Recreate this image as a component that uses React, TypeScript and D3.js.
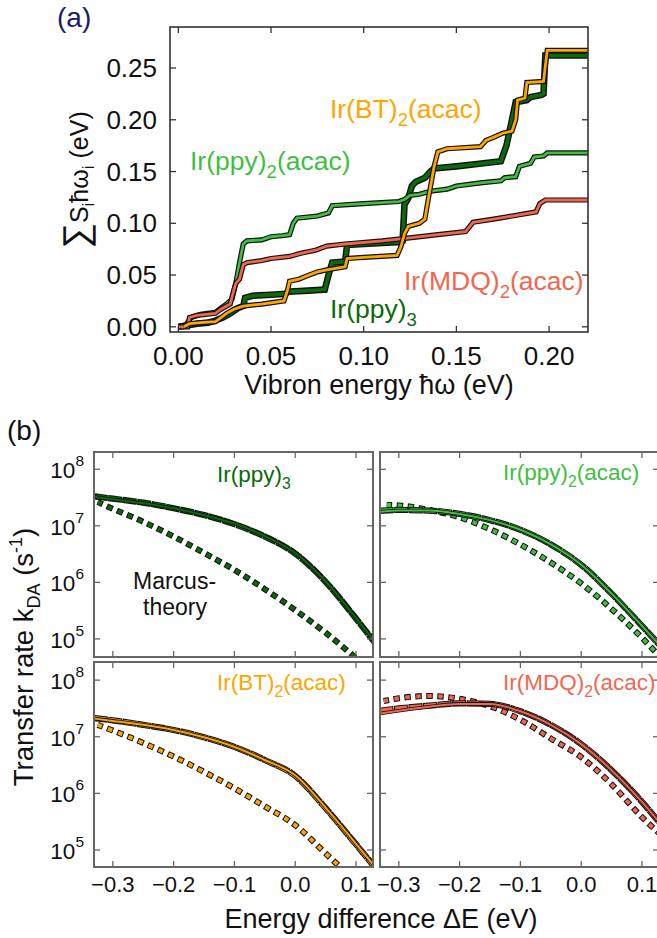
import React from "react";
import * as d3 from "d3";

const FONT = '"Liberation Sans", Arial, Helvetica, sans-serif';

// ---------- colours ----------
const C_PPY3 = "#0b6a0b";
const C_PPY2 = "#3fbf3f";
const C_BT = "#ffa500";
const C_MDQ = "#f26650";

// ---------- panel (a): cumulative reorganisation energy ----------
type Pt = [number, number];
const ppy3Cum: Pt[] = [
  [0.0, 0.0], [0.004, 0.001], [0.01, 0.003], [0.016, 0.004], [0.02, 0.006], [0.024, 0.009],
  [0.028, 0.013], [0.032, 0.018], [0.035, 0.02], [0.036, 0.028], [0.04, 0.03], [0.05, 0.031],
  [0.058, 0.032], [0.059, 0.034], [0.07, 0.035], [0.079, 0.036], [0.081, 0.05], [0.083, 0.062],
  [0.09, 0.063], [0.091, 0.079], [0.1, 0.08], [0.11, 0.081], [0.12, 0.082], [0.121, 0.083],
  [0.122, 0.118], [0.124, 0.124], [0.126, 0.136], [0.128, 0.14], [0.133, 0.144], [0.136, 0.15],
  [0.138, 0.153], [0.15, 0.155], [0.16, 0.157], [0.174, 0.16], [0.177, 0.175], [0.18, 0.2],
  [0.182, 0.217], [0.188, 0.219], [0.19, 0.222], [0.196, 0.224], [0.197, 0.225], [0.198, 0.262],
  [0.221, 0.262],
];
const ppy2Cum: Pt[] = [
  [0.0, 0.0], [0.004, 0.002], [0.007, 0.009], [0.012, 0.012], [0.02, 0.014], [0.023, 0.018],
  [0.026, 0.022], [0.029, 0.027], [0.031, 0.042], [0.033, 0.062], [0.035, 0.08], [0.037, 0.083],
  [0.045, 0.084], [0.05, 0.087], [0.056, 0.088], [0.06, 0.089], [0.062, 0.1], [0.064, 0.105],
  [0.075, 0.107], [0.081, 0.11], [0.083, 0.117], [0.1, 0.119], [0.119, 0.121], [0.122, 0.123],
  [0.125, 0.127], [0.13, 0.128], [0.136, 0.131], [0.145, 0.133], [0.15, 0.136], [0.163, 0.139],
  [0.174, 0.141], [0.176, 0.144], [0.182, 0.145], [0.184, 0.155], [0.19, 0.158], [0.192, 0.164],
  [0.197, 0.165], [0.199, 0.168], [0.221, 0.168],
];
const btCum: Pt[] = [
  [0.003, 0.0], [0.006, 0.003], [0.012, 0.004], [0.02, 0.005], [0.023, 0.009], [0.026, 0.013],
  [0.03, 0.017], [0.035, 0.02], [0.045, 0.022], [0.057, 0.025], [0.059, 0.036], [0.06, 0.044],
  [0.065, 0.046], [0.069, 0.049], [0.075, 0.053], [0.08, 0.055], [0.09, 0.058], [0.091, 0.066],
  [0.1, 0.067], [0.118, 0.069], [0.12, 0.077], [0.122, 0.09], [0.124, 0.097], [0.13, 0.1],
  [0.133, 0.104], [0.135, 0.125], [0.138, 0.155], [0.14, 0.169], [0.145, 0.172], [0.163, 0.174],
  [0.166, 0.18], [0.17, 0.183], [0.175, 0.187], [0.18, 0.189], [0.182, 0.2], [0.183, 0.219],
  [0.187, 0.221], [0.188, 0.236], [0.197, 0.237], [0.199, 0.267], [0.221, 0.267],
];
const mdqCum: Pt[] = [
  [0.0, 0.0], [0.005, 0.0], [0.006, 0.009], [0.01, 0.011], [0.02, 0.013], [0.023, 0.017],
  [0.028, 0.022], [0.03, 0.036], [0.031, 0.042], [0.033, 0.046], [0.035, 0.06], [0.037, 0.062],
  [0.045, 0.064], [0.05, 0.066], [0.06, 0.068], [0.066, 0.071], [0.074, 0.074], [0.08, 0.078],
  [0.09, 0.08], [0.11, 0.083], [0.12, 0.085], [0.14, 0.089], [0.155, 0.092], [0.159, 0.101],
  [0.17, 0.104], [0.18, 0.107], [0.193, 0.111], [0.195, 0.119], [0.198, 0.1225], [0.221, 0.1225],
];
const aXTicks = [0, 0.05, 0.1, 0.15, 0.2];
const aYTicks = [0, 0.05, 0.1, 0.15, 0.2, 0.25];

// ---------- panel (b): transfer rates (log10 k_DA) ----------
const dEGrid = [-0.33, -0.3, -0.25, -0.2, -0.15, -0.1, -0.05, 0.0, 0.05, 0.1, 0.13];

const ppy3Full = [7.51, 7.47, 7.4, 7.31, 7.19, 7.04, 6.82, 6.52, 6.02, 5.37, 4.96];
const ppy3Dash = [7.52, 7.48, 7.41, 7.31, 7.19, 7.03, 6.81, 6.51, 6.01, 5.36, 4.95];
const ppy3MarcusE = [-0.325, -0.3, -0.25, -0.2, -0.15, -0.1, -0.05, 0.0, 0.05, 0.1];
const ppy3Marcus = [7.42, 7.3, 7.07, 6.81, 6.52, 6.22, 5.88, 5.51, 5.11, 4.66];

const ppy2Full = [7.25, 7.27, 7.27, 7.21, 7.1, 6.93, 6.67, 6.31, 5.8, 5.23, 4.88];
const ppy2Dash = [7.27, 7.28, 7.27, 7.21, 7.1, 6.93, 6.67, 6.31, 5.8, 5.23, 4.88];
const ppy2MarcusE = [-0.32, -0.3, -0.25, -0.2, -0.15, -0.1, -0.05, 0.0, 0.05, 0.1, 0.13];
const ppy2Marcus = [7.37, 7.36, 7.28, 7.15, 6.94, 6.67, 6.35, 5.98, 5.53, 5.02, 4.68];

const btFull = [7.32, 7.28, 7.21, 7.12, 6.99, 6.82, 6.59, 6.32, 5.75, 5.11, 4.72];
const btDash = [7.33, 7.29, 7.21, 7.12, 6.99, 6.82, 6.59, 6.31, 5.74, 5.1, 4.71];
const btMarcusE = [-0.325, -0.3, -0.25, -0.2, -0.15, -0.1, -0.05, 0.0, 0.05, 0.08];
const btMarcus = [7.21, 7.11, 6.89, 6.65, 6.38, 6.09, 5.77, 5.44, 4.94, 4.64];

const mdqFull = [7.41, 7.46, 7.53, 7.58, 7.58, 7.45, 7.21, 6.87, 6.41, 5.85, 5.47];
const mdqDash = [7.46, 7.5, 7.55, 7.59, 7.58, 7.45, 7.21, 6.87, 6.41, 5.85, 5.47];
const mdqMarcusE = [-0.325, -0.3, -0.25, -0.2, -0.15, -0.1, -0.05, 0.0, 0.05, 0.1, 0.13];
const mdqMarcus = [7.63, 7.68, 7.72, 7.67, 7.54, 7.3, 6.97, 6.64, 6.16, 5.58, 5.28];

const bXTicks = [-0.3, -0.2, -0.1, 0.0, 0.1];
const bYTickExps = [5, 6, 7, 8];

// ---------- helpers ----------
function Outlined(props: {
  d: string; color: string; w: number; outline: number; dash?: number; gap?: number; clip?: string;
}) {
  const { d, color, w, outline, dash, gap, clip } = props;
  const common = { fill: "none", strokeLinejoin: "miter" as const, strokeLinecap: "butt" as const, clipPath: clip };
  if (dash === undefined || gap === undefined) {
    return (
      <g>
        <path d={d} stroke="#111" strokeWidth={w + 2 * outline} {...common} />
        <path d={d} stroke={color} strokeWidth={w} {...common} />
      </g>
    );
  }
  return (
    <g>
      <path d={d} stroke="#111" strokeWidth={w + 2 * outline}
        strokeDasharray={`${dash + 2 * outline} ${Math.max(gap - 2 * outline, 0.01)}`}
        strokeDashoffset={outline} {...common} />
      <path d={d} stroke={color} strokeWidth={w} strokeDasharray={`${dash} ${gap}`} {...common} />
    </g>
  );
}

function Formula(props: { x: number; y: number; size: number; color: string; a: string; s: string; b?: string }) {
  const { x, y, size, color, a, s, b } = props;
  const d = size * 0.3;
  return (
    <text x={x} y={y} fontSize={size} fill={color} fontFamily={FONT}>
      {a}
      <tspan dy={d} fontSize={size * 0.7}>{s}</tspan>
      {b ? <tspan dy={-d}>{b}</tspan> : null}
    </text>
  );
}

type SubProps = {
  id: string; x0: number; x1: number; y0: number; y1: number; logMin: number; logMax: number;
  color: string; full: number[]; dash: number[]; mE: number[]; m: number[];
  leftLabels: boolean; label: { a: string; s: string; b?: string; x: number; y: number };
};

function SubPlot(p: SubProps) {
  const x = d3.scaleLinear().domain([-0.331, 0.128]).range([p.x0, p.x1]);
  const y = d3.scaleLog().domain([Math.pow(10, p.logMin), Math.pow(10, p.logMax)]).range([p.y1, p.y0]);
  const line = d3.line<[number, number]>()
    .x((d) => x(d[0]))
    .y((d) => y(Math.pow(10, d[1])))
    .curve(d3.curveMonotoneX);
  const fullD = line(dEGrid.map((e, i) => [e, p.full[i]] as [number, number])) || "";
  const dashD = line(dEGrid.map((e, i) => [e, p.dash[i]] as [number, number])) || "";
  const mD = line(p.mE.map((e, i) => [e, p.m[i]] as [number, number])) || "";
  const clip = `url(#${p.id})`;
  const frame = "#666";
  const tl = 6;
  return (
    <g>
      <defs>
        <clipPath id={p.id}>
          <rect x={p.x0} y={p.y0} width={p.x1 - p.x0} height={p.y1 - p.y0} />
        </clipPath>
      </defs>
      <Outlined d={mD} color={p.color} w={4} outline={1} dash={4.5} gap={6.5} clip={clip} />
      <Outlined d={dashD} color={p.color} w={4.2} outline={1} dash={12} gap={2.6} clip={clip} />
      <Outlined d={fullD} color={p.color} w={2} outline={0.8} clip={clip} />
      {bXTicks.map((t) => (
        <g key={"x" + t}>
          <line x1={x(t)} x2={x(t)} y1={p.y1} y2={p.y1 - tl} stroke={frame} strokeWidth={1.3} />
          <line x1={x(t)} x2={x(t)} y1={p.y0} y2={p.y0 + tl} stroke={frame} strokeWidth={1.3} />
          <text x={x(t)} y={892} fontSize={22} textAnchor="middle" fontFamily={FONT} fill="#111"
            display={p.y1 > 800 ? undefined : "none"}>
            {t < 0 ? "\u2212" + Math.abs(t).toFixed(1) : t.toFixed(1)}
          </text>
        </g>
      ))}
      {bYTickExps.map((e) => {
        const yy = y(Math.pow(10, e));
        return (
          <g key={"y" + e}>
            <line x1={p.x0} x2={p.x0 + tl} y1={yy} y2={yy} stroke={frame} strokeWidth={1.3} />
            <line x1={p.x1} x2={p.x1 - tl} y1={yy} y2={yy} stroke={frame} strokeWidth={1.3} />
            {p.leftLabels ? (
              <text x={84} y={yy + 9} fontSize={22.5} textAnchor="end" fontFamily={FONT} fill="#111">
                10<tspan dy={-12} fontSize={15.5}>{e}</tspan>
              </text>
            ) : null}
          </g>
        );
      })}
      <rect x={p.x0} y={p.y0} width={p.x1 - p.x0} height={p.y1 - p.y0} fill="none" stroke={frame} strokeWidth={2} />
      <Formula x={p.label.x} y={p.label.y} size={22.5} color={p.color} a={p.label.a} s={p.label.s} b={p.label.b} />
    </g>
  );
}

export default function App() {
  // panel (a)
  const ax = d3.scaleLinear().domain([-0.0045, 0.221]).range([170, 588]);
  const ay = d3.scaleLinear().domain([-0.005, 0.2896]).range([332, 27]);
  const aLine = d3.line<Pt>().x((d) => ax(d[0])).y((d) => ay(d[1]));
  const aFrame = "#333";
  const tl = 6;

  return (
    <svg width={657} height={938} style={{ position: "absolute", left: 0, top: 0, background: "#fff" }}
      fontFamily={FONT}>
      <rect x={0} y={0} width={657} height={938} fill="#fff" />
      {/* ---------- (a) ---------- */}
      <text x={57} y={27} fontSize={28} fill="#1c1c6b">(a)</text>
      <g>
        <Outlined d={aLine(ppy3Cum) || ""} color={C_PPY3} w={3.8} outline={1.4} />
        <Outlined d={aLine(ppy2Cum) || ""} color={C_PPY2} w={2.8} outline={1.2} />
        <Outlined d={aLine(mdqCum) || ""} color={C_MDQ} w={2.8} outline={1.2} />
        <Outlined d={aLine(btCum) || ""} color={C_BT} w={2.8} outline={1.2} />
      </g>
      {aXTicks.map((t) => (
        <g key={"ax" + t}>
          <line x1={ax(t)} x2={ax(t)} y1={332} y2={332 - tl} stroke={aFrame} strokeWidth={1.3} />
          <line x1={ax(t)} x2={ax(t)} y1={27} y2={27 + tl} stroke={aFrame} strokeWidth={1.3} />
          <text x={ax(t)} y={365} fontSize={26} textAnchor="middle" fill="#111">{t.toFixed(2)}</text>
        </g>
      ))}
      {aYTicks.map((t) => (
        <g key={"ay" + t}>
          <line x1={170} x2={170 + tl} y1={ay(t)} y2={ay(t)} stroke={aFrame} strokeWidth={1.3} />
          <line x1={588} x2={588 - tl} y1={ay(t)} y2={ay(t)} stroke={aFrame} strokeWidth={1.3} />
          <text x={157} y={ay(t) + 9} fontSize={26} textAnchor="end" fill="#111">{t.toFixed(2)}</text>
        </g>
      ))}
      <rect x={170} y={27} width={418} height={305} fill="none" stroke={aFrame} strokeWidth={1.6} />
      <Formula x={330} y={118} size={26.5} color={C_BT} a="Ir(BT)" s="2" b="(acac)" />
      <Formula x={190} y={170} size={26.5} color={C_PPY2} a="Ir(ppy)" s="2" b="(acac)" />
      <Formula x={404} y={290} size={26.5} color={C_MDQ} a="Ir(MDQ)" s="2" b="(acac)" />
      <Formula x={330} y={318} size={26.5} color={C_PPY3} a="Ir(ppy)" s="3" />
      <text x={379} y={394} fontSize={27} textAnchor="middle" fill="#111">Vibron energy ħω (eV)</text>
      <text transform="translate(88,180) rotate(-90)" fontSize={25} textAnchor="middle" fill="#111">
        <tspan fontSize={36}>∑</tspan>S<tspan dy={6} fontSize={17}>i</tspan>
        <tspan dy={-6}>ħω</tspan><tspan dy={6} fontSize={17}>i</tspan>
        <tspan dy={-6}> (eV)</tspan>
      </text>

      {/* ---------- (b) ---------- */}
      <text x={7} y={440} fontSize={28} fill="#111">(b)</text>
      <SubPlot id="c1" x0={94} x1={373} y0={452} y1={657} logMin={4.68} logMax={8.305}
        color={C_PPY3} full={ppy3Full} dash={ppy3Dash} mE={ppy3MarcusE} m={ppy3Marcus} leftLabels={true}
        label={{ a: "Ir(ppy)", s: "3", x: 217, y: 482 }} />
      <SubPlot id="c2" x0={380} x1={659} y0={452} y1={657} logMin={4.68} logMax={8.305}
        color={C_PPY2} full={ppy2Full} dash={ppy2Dash} mE={ppy2MarcusE} m={ppy2Marcus} leftLabels={false}
        label={{ a: "Ir(ppy)", s: "2", b: "(acac)", x: 503, y: 480 }} />
      <SubPlot id="c3" x0={94} x1={373} y0={662} y1={867} logMin={4.7} logMax={8.32}
        color={C_BT} full={btFull} dash={btDash} mE={btMarcusE} m={btMarcus} leftLabels={true}
        label={{ a: "Ir(BT)", s: "2", b: "(acac)", x: 217, y: 690 }} />
      <SubPlot id="c4" x0={380} x1={659} y0={662} y1={867} logMin={4.7} logMax={8.32}
        color={C_MDQ} full={mdqFull} dash={mdqDash} mE={mdqMarcusE} m={mdqMarcus} leftLabels={false}
        label={{ a: "Ir(MDQ)", s: "2", b: "(acac)", x: 503, y: 690 }} />
      <text x={133} y={589} fontSize={23} fill="#111">Marcus-</text>
      <text x={143} y={615} fontSize={23} fill="#111">theory</text>
      <text x={381} y={928} fontSize={27} textAnchor="middle" fill="#111">Energy difference ΔE (eV)</text>
      <text transform="translate(33,657) rotate(-90)" fontSize={27.5} textAnchor="middle" fill="#111">
        Transfer rate k<tspan dy={7} fontSize={18}>DA</tspan><tspan dy={-7}> (s</tspan>
        <tspan dy={-11} fontSize={18}>-1</tspan><tspan dy={11}>)</tspan>
      </text>
    </svg>
  );
}
